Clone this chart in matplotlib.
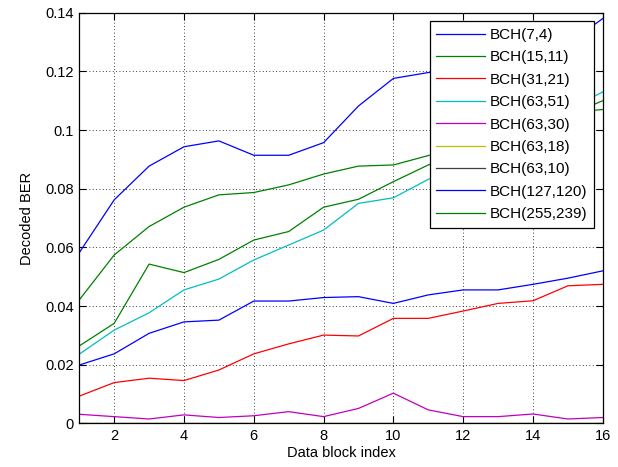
import matplotlib
matplotlib.use("Agg")
import matplotlib.pyplot as plt
from matplotlib.ticker import FuncFormatter

plt.rcParams['font.family'] = ['Liberation Sans', 'DejaVu Sans']

x = list(range(1, 17))
labels = ["BCH(7,4)", "BCH(15,11)", "BCH(31,21)", "BCH(63,51)", "BCH(63,30)",
          "BCH(63,18)", "BCH(63,10)", "BCH(127,120)", "BCH(255,239)"]
colors = ["#0000ff", "#008000", "#ff0000", "#00bfbf", "#bf00bf",
          "#bfbf00", "#404040", "#0000ff", "#008000"]

bch_7_4 = [0.0582, 0.0762, 0.0877, 0.0943, 0.0963, 0.0914, 0.0914, 0.0957,
           0.1082, 0.1176, 0.1196, 0.1210, 0.1230, 0.1260, 0.1295, 0.1380]
bch_15_11 = [0.0421, 0.0574, 0.0671, 0.0737, 0.0779, 0.0787, 0.0813, 0.0850,
             0.0877, 0.0881, 0.0913, 0.0940, 0.0980, 0.1020, 0.1060, 0.1070]
bch_31_21 = [0.0093, 0.0139, 0.0154, 0.0146, 0.0182, 0.0237, 0.0271, 0.0301,
             0.0298, 0.0358, 0.0358, 0.0383, 0.0409, 0.0418, 0.0469, 0.0474]
bch_63_51 = [0.0236, 0.0318, 0.0377, 0.0455, 0.0492, 0.0557, 0.0608, 0.0659,
             0.0750, 0.0769, 0.0832, 0.0890, 0.0950, 0.1010, 0.1070, 0.1130]
bch_63_30 = [0.0031, 0.0023, 0.0015, 0.0029, 0.0020, 0.0026, 0.0040, 0.0023,
             0.0051, 0.0103, 0.0046, 0.0023, 0.0023, 0.0032, 0.0015, 0.0020]
bch_63_18 = [0.0] * 16
bch_63_10 = [0.0] * 16
bch_127_120 = [0.0199, 0.0237, 0.0307, 0.0346, 0.0352, 0.0417, 0.0417, 0.0429,
               0.0432, 0.0409, 0.0438, 0.0455, 0.0455, 0.0474, 0.0495, 0.0520]
bch_255_239 = [0.0264, 0.0341, 0.0543, 0.0514, 0.0559, 0.0625, 0.0654, 0.0737,
               0.0764, 0.0824, 0.0881, 0.0920, 0.0960, 0.1000, 0.1050, 0.1100]

series = [bch_7_4, bch_15_11, bch_31_21, bch_63_51, bch_63_30,
          bch_63_18, bch_63_10, bch_127_120, bch_255_239]

xticks = [2, 4, 6, 8, 10, 12, 14, 16]
yticks = [0, 0.02, 0.04, 0.06, 0.08, 0.1, 0.12, 0.14]

fig = plt.figure(figsize=(6.18, 4.67), dpi=100)
ax = fig.add_axes([0.1283, 0.0934, 0.9754 - 0.1283, 0.9728 - 0.0934])

for s, lab, c in zip(series, labels, colors):
    ax.plot(x, s, color=c, lw=0.9, label=lab, zorder=2)

ax.set_xlim(1, 16)
ax.set_ylim(0, 0.14)
ax.set_xticks(xticks)
ax.set_yticks(yticks)
ax.yaxis.set_major_formatter(FuncFormatter(lambda v, p: "%g" % round(v, 4)))
ax.grid(True, linestyle=(0, (1, 3)), color='black', linewidth=0.6)
ax.tick_params(direction='in', top=True, right=True, length=5, width=0.8,
               labelsize=10.5, pad=4)
for sp in ax.spines.values():
    sp.set_linewidth(0.9)
    sp.set_zorder(3)

ax.set_xlabel("Data block index", fontsize=10.5, labelpad=2)
ax.set_ylabel("Decoded BER", fontsize=10.5, labelpad=8)

leg = ax.legend(loc='upper right', fontsize=11, frameon=True, fancybox=False,
                edgecolor='black', framealpha=1, handlelength=3.2,
                handletextpad=0.3, labelspacing=0.55, borderpad=0.45,
                borderaxespad=0.55)
leg.get_frame().set_linewidth(0.9)

fig.savefig("out.png", dpi=100)
